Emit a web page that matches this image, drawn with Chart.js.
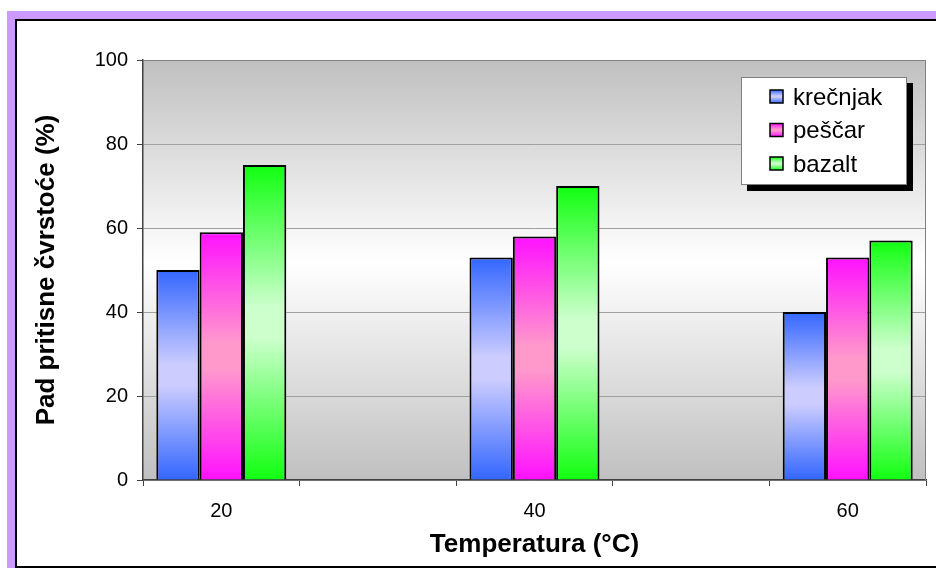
<!DOCTYPE html>
<html>
<head>
<meta charset="utf-8">
<script src="https://cdn.jsdelivr.net/npm/chart.js@4.4.1/dist/chart.umd.min.js"></script>
<style>
  html, body { margin: 0; padding: 0; background: #ffffff; overflow: hidden; }
  #wrap { position: relative; width: 936px; height: 569px; }
  #chart { display: block; }
</style>
</head>
<body>
<div id="wrap"><canvas id="chart" width="936" height="569"></canvas></div>
<script>
// Temperature categories (empty slots keep the spacing between groups)
const categories = ['20', '', '40', '', '60'];
const seriesNames = ['krečnjak', 'peščar', 'bazalt'];
const krecnjak = [50, null, 53, null, 40];
const pescar   = [59, null, 58, null, 53];
const bazalt   = [75, null, 70, null, 57];
const yTicks   = [0, 20, 40, 60, 80, 100];

const yTitle = 'Pad pritisne čvrstoće (%)';
const xTitle = 'Temperatura (°C)';

// [edge colour, centre colour] of each series' vertical gradient
const palettes = [
  ['#3366ff', '#ccccff'],
  ['#ff11ff', '#ff99cc'],
  ['#11ff11', '#ccffcc']
];

const FONT = '"Liberation Sans", Arial, sans-serif';

function makeGradient(c, top, bottom, pal) {
  const g = c.createLinearGradient(0, top, 0, bottom);
  g.addColorStop(0, pal[0]);
  g.addColorStop(0.45, pal[1]);
  g.addColorStop(0.55, pal[1]);
  g.addColorStop(1, pal[0]);
  return g;
}

function barFill(ctx) {
  const pal = palettes[ctx.datasetIndex];
  const chart = ctx.chart;
  if (!chart.chartArea || ctx.type !== 'data' || ctx.raw == null) return pal[0];
  const y = chart.scales.y;
  const top = y.getPixelForValue(ctx.raw);
  const base = y.getPixelForValue(0);
  if (!isFinite(top) || !isFinite(base) || base - top < 1) return pal[0];
  return makeGradient(chart.ctx, top, base, pal);
}

// Outer frame and plot-area background
const framePlugin = {
  id: 'frame',
  beforeDraw(chart) {
    const c = chart.ctx;
    const W = chart.width, H = chart.height;
    const ca = chart.chartArea;
    c.save();
    c.fillStyle = '#ffffff';
    c.fillRect(0, 0, W, H);
    c.fillStyle = '#cc99ff';
    c.fillRect(7, 11, W - 7, H - 11 - 1);
    c.fillStyle = '#ffffff';
    c.fillRect(15, 19, W - 15, H - 19 - 3);
    c.fillStyle = '#000000';
    c.fillRect(15, 19, W - 15, 2);
    c.fillRect(15, 19, 2, H - 19 - 1);
    c.fillRect(15, H - 3, W - 15, 2);

    const g = c.createLinearGradient(0, ca.top, 0, ca.bottom);
    g.addColorStop(0, '#c0c0c0');
    g.addColorStop(0.48, '#ffffff');
    g.addColorStop(1, '#c0c0c0');
    c.fillStyle = g;
    c.fillRect(ca.left, ca.top, ca.right - ca.left, ca.bottom - ca.top);
    c.restore();
  },
  beforeDatasetsDraw(chart) {
    const c = chart.ctx;
    const ca = chart.chartArea;
    c.save();
    c.strokeStyle = '#808080';
    c.lineWidth = 1;
    c.beginPath();
    c.moveTo(ca.left, ca.top + 0.5);
    c.lineTo(ca.right - 0.5, ca.top + 0.5);
    c.lineTo(ca.right - 0.5, ca.bottom);
    c.stroke();
    c.restore();
  }
};

// Boxed legend with drop shadow inside the plot area
const legendBoxPlugin = {
  id: 'legendBox',
  afterDraw(chart) {
    const c = chart.ctx;
    const ca = chart.chartArea;
    const w = 166, h = 108;
    const x = ca.right - 185, y = ca.top + 17;
    c.save();
    c.fillStyle = '#000000';
    c.fillRect(x + 6, y + 6, w, h);
    c.fillStyle = '#ffffff';
    c.fillRect(x, y, w, h);
    c.strokeStyle = '#808080';
    c.lineWidth = 1;
    c.strokeRect(x + 0.5, y + 0.5, w - 1, h - 1);
    c.font = '24px ' + FONT;
    c.textBaseline = 'middle';
    c.textAlign = 'left';
    chart.data.datasets.forEach((ds, i) => {
      const cy = y + 20 + i * 33.5;
      const sx = x + 29, sy = cy - 7, s = 13;
      c.fillStyle = makeGradient(c, sy, sy + s, palettes[i]);
      c.fillRect(sx, sy, s, s);
      c.strokeStyle = '#000000';
      c.lineWidth = 1.5;
      c.strokeRect(sx, sy, s, s);
      c.fillStyle = '#000000';
      c.fillText(ds.label, x + 52, cy + 1);
    });
    c.restore();
  }
};

const seriesData = [krecnjak, pescar, bazalt];

new Chart(document.getElementById('chart'), {
  type: 'bar',
  data: {
    labels: categories,
    datasets: seriesData.map((d, i) => ({
      label: seriesNames[i],
      data: d,
      backgroundColor: barFill,
      borderColor: '#000000',
      borderWidth: 2,
      borderSkipped: 'bottom',
      categoryPercentage: 0.83,
      barPercentage: 1.0
    }))
  },
  options: {
    responsive: false,
    animation: false,
    devicePixelRatio: 1,
    layout: { padding: { top: 60, right: 10, left: 17, bottom: 3 } },
    plugins: {
      legend: { display: false },
      tooltip: { enabled: false },
      title: { display: false }
    },
    scales: {
      x: {
        offset: true,
        afterFit(scale) { scale.height = 86; },
        grid: {
          display: true,
          offset: true,
          drawOnChartArea: false,
          drawTicks: true,
          tickLength: 6,
          tickColor: '#404040',
          tickWidth: 1
        },
        border: { display: true, color: '#404040', width: 1.5 },
        ticks: {
          color: '#000000',
          font: { family: FONT, size: 20 },
          padding: 13,
          autoSkip: false,
          maxRotation: 0
        },
        title: {
          display: true,
          text: xTitle,
          color: '#000000',
          font: { family: FONT, size: 26, weight: 'bold' },
          padding: { top: 0, bottom: 6 }
        }
      },
      y: {
        min: 0,
        max: 100,
        afterFit(scale) { scale.width = 126; },
        afterBuildTicks(scale) { scale.ticks = yTicks.map(v => ({ value: v })); },
        grid: {
          color: '#a0a0a0',
          lineWidth: 1,
          drawTicks: true,
          tickLength: 6,
          tickColor: '#404040'
        },
        border: { display: true, color: '#404040', width: 1.5 },
        ticks: {
          color: '#000000',
          font: { family: FONT, size: 20 },
          padding: 9
        },
        title: {
          display: true,
          text: yTitle,
          color: '#000000',
          font: { family: FONT, size: 26, weight: 'bold' },
          padding: { top: 14, bottom: 0 }
        }
      }
    }
  },
  plugins: [framePlugin, legendBoxPlugin]
});
</script>
</body>
</html>
